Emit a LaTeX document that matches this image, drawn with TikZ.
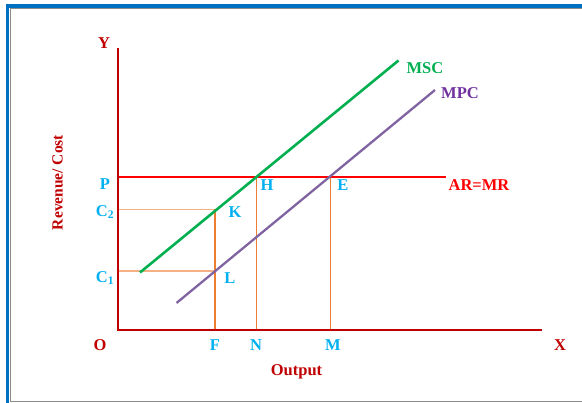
\documentclass[tikz,border=0pt]{standalone}
\usepackage{fontspec}
\setmainfont{Liberation Serif}
\definecolor{axred}{HTML}{C00000}
\definecolor{brred}{HTML}{FF0000}
\definecolor{lblue}{HTML}{00B0F0}
\definecolor{mscg}{HTML}{00B050}
\definecolor{mpcline}{HTML}{8064A2}
\definecolor{mpctext}{HTML}{7030A0}
\definecolor{orng}{HTML}{ED7D31}
\definecolor{lorng}{HTML}{F4B183}
\definecolor{frblue}{HTML}{0070C0}
\definecolor{frgrey}{HTML}{8C8C8C}
\begin{document}
\begin{tikzpicture}[x=1pt,y=-1pt,
  lbl/.style={font=\fontsize{16.5}{18}\selectfont\bfseries, inner sep=0pt},
  bluelbl/.style={lbl, text=lblue},
  redlbl/.style={lbl, text=axred},
  axis/.style={draw=axred, line width=2pt},
  guide/.style={draw=orng, line width=1.6pt},
  lguide/.style={draw=lorng, line width=1.6pt}]
\useasboundingbox (0,0) rectangle (582,403);
% frame
\draw[frgrey, line width=1pt] (10.5,402.5) -- (10.5,9) -- (582,9);
\draw[frgrey, line width=1pt] (10,402) -- (582,402);
\draw[frblue, line width=3.5pt] (7.5,403) -- (7.5,6) -- (582,6);
% coordinates
\coordinate (O) at (118,330.5);
\coordinate (Ytop) at (118,48);
\coordinate (Xend) at (542,330.5);
\coordinate (Pp) at (118,177);
\coordinate (ARend) at (446,177);
\coordinate (H) at (256.5,177);
\coordinate (E) at (330.5,177);
\coordinate (N) at (256.5,330.5);
\coordinate (M) at (330.5,330.5);
\coordinate (K) at (215,209.5);
\coordinate (L) at (215,271);
\coordinate (F) at (215,330.5);
\coordinate (C2) at (118,209.5);
\coordinate (C1) at (118,271);
\coordinate (msc1) at (140,272.5);
\coordinate (msc2) at (398.5,60.5);
\coordinate (mpc1) at (176.5,303);
\coordinate (mpc2) at (435,90);
% guides
\draw[lguide] (C2) -- (K);
\draw[lguide] (C1) -- (L);
\draw[guide] (K) -- (F);
\draw[guide] (H) -- (N);
\draw[guide] (E) -- (M);
% AR=MR line
\draw[brred, line width=2pt] (Pp) -- (ARend);
% curves
\draw[mscg, line width=2.6pt] (msc1) -- (msc2);
\draw[mpcline, line width=2.3pt] (mpc1) -- (mpc2);
% axes
\draw[axis] (Ytop) -- (O) -- (Xend);
% labels
\node[redlbl] (ly) at (104,43) {Y};
\node[redlbl] (lx) at (560,345) {X};
\node[redlbl] (lo) at (100,345) {O};
\node[redlbl] (lout) at (296.5,371.5) {Output};
\node[redlbl, rotate=90, font=\fontsize{15.5}{17}\selectfont\bfseries] (lrc) at (57.5,182.5) {Revenue/ Cost};
\node[lbl, text=brred] (lar) at (479,185) {AR=MR};
\node[lbl, text=mscg] (lmsc) at (425,68.5) {MSC};
\node[lbl, text=mpctext] (lmpc) at (460,93.5) {MPC};
\node[bluelbl] (lp) at (105,184.5) {P};
\node[bluelbl] (lh) at (267,185) {H};
\node[bluelbl] (le) at (343,185) {E};
\node[bluelbl] (lc2) at (105,212) {C\textsubscript{2}};
\node[bluelbl] (lc1) at (105,278) {C\textsubscript{1}};
\node[bluelbl] (lk) at (235,212) {K};
\node[bluelbl] (ll) at (230,278) {L};
\node[bluelbl] (lf) at (215,345) {F};
\node[bluelbl] (ln) at (256,345) {N};
\node[bluelbl] (lm) at (333,345) {M};
\end{tikzpicture}
\end{document}
